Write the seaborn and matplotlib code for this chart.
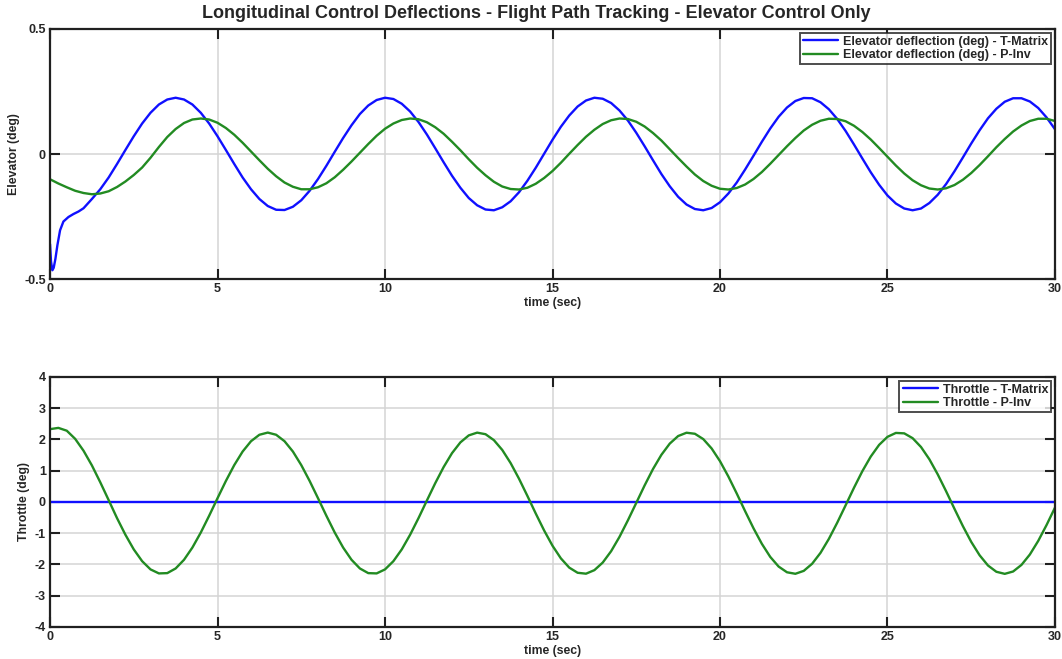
import numpy as np
import matplotlib
matplotlib.use("Agg")
import matplotlib.pyplot as plt
import seaborn as sns

# ---- sample times (s) ----
time_s = np.arange(0, 30.001, 0.25)

# ---- elevator deflection, T-Matrix (deg): fast start-up transient, then grid samples from 1.25 s ----
elev_tm_head_t = [0.0, 0.03, 0.07, 0.11, 0.16, 0.22, 0.30, 0.40, 0.55, 0.70, 0.85, 1.00]
elev_tm_head = [-0.360, -0.430, -0.465, -0.455, -0.420, -0.365, -0.305, -0.270, -0.252, -0.240, -0.230, -0.217]
elev_tm_tail = [
    -0.180, -0.141, -0.094, -0.040, 0.016, 0.071, 0.122, 0.165, 0.198, 0.218,
    0.225, 0.218, 0.198, 0.165, 0.122, 0.071, 0.016, -0.040, -0.094, -0.141,
    -0.180, -0.208, -0.223, -0.224, -0.211, -0.185, -0.147, -0.100, -0.047, 0.009,
    0.064, 0.115, 0.160, 0.194, 0.216, 0.225, 0.220, 0.201, 0.170, 0.128,
    0.078, 0.023, -0.033, -0.087, -0.135, -0.176, -0.205, -0.222, -0.225, -0.213,
    -0.189, -0.153, -0.107, -0.055, 0.001, 0.057, 0.109, 0.154, 0.190, 0.214,
    0.225, 0.221, 0.204, 0.174, 0.134, 0.085, 0.031, -0.025, -0.080, -0.129,
    -0.171, -0.202, -0.220, -0.225, -0.216, -0.193, -0.158, -0.114, -0.062, -0.007,
    0.049, 0.102, 0.149, 0.186, 0.212, 0.224, 0.223, 0.207, 0.179, 0.140,
    0.092, 0.038, -0.018, -0.073, -0.123, -0.166, -0.198, -0.218, -0.225, -0.218,
    -0.196, -0.163, -0.120, -0.069, -0.014, 0.042, 0.095, 0.143, 0.181, 0.209,
    0.223, 0.223, 0.210, 0.184, 0.146, 0.099,
]

# ---- elevator deflection, P-Inv (deg) on time_s ----
elev_pinv = [
    -0.101, -0.118, -0.133, -0.147, -0.156, -0.161, -0.158, -0.149, -0.132, -0.110,
    -0.084, -0.054, -0.015, 0.028, 0.068, 0.100, 0.124, 0.138,
    0.142, 0.138, 0.125, 0.104, 0.077, 0.045, 0.010, -0.025, -0.059, -0.089,
    -0.114, -0.131, -0.141, -0.141, -0.133, -0.117, -0.093, -0.063, -0.030, 0.005,
    0.040, 0.073, 0.101, 0.122, 0.136, 0.142, 0.139, 0.127, 0.107, 0.081,
    0.049, 0.015, -0.021, -0.055, -0.085, -0.111, -0.130, -0.140, -0.142, -0.135,
    -0.119, -0.096, -0.068, -0.035, 0.001, 0.036, 0.069, 0.097, 0.120, 0.135,
    0.142, 0.140, 0.129, 0.110, 0.084, 0.054, 0.019, -0.016, -0.050, -0.082,
    -0.108, -0.127, -0.139, -0.142, -0.136, -0.122, -0.100, -0.072, -0.039, -0.004,
    0.031, 0.064, 0.094, 0.117, 0.133, 0.141, 0.140, 0.131, 0.113, 0.088,
    0.058, 0.024, -0.011, -0.046, -0.078, -0.105, -0.125, -0.138, -0.142, -0.137,
    -0.124, -0.103, -0.076, -0.044, -0.009, 0.027, 0.060, 0.090, 0.114, 0.132,
    0.141, 0.141, 0.132,
]

# ---- throttle (deg) on time_s ----
throttle_tm = [0.0] * 121
throttle_pinv = [
    2.330, 2.370, 2.280, 2.020, 1.640, 1.170, 0.630, 0.060,
    -0.517, -1.048, -1.518, -1.895, -2.158, -2.286, -2.277, -2.128, -1.850, -1.459,
    -0.980, -0.442, 0.120, 0.672, 1.180, 1.614, 1.944, 2.150, 2.220, 2.150,
    1.944, 1.614, 1.180, 0.672, 0.120, -0.442, -0.980, -1.459, -1.850, -2.128,
    -2.277, -2.286, -2.158, -1.895, -1.518, -1.048, -0.517, 0.046, 0.602, 1.117,
    1.562, 1.906, 2.130, 2.218, 2.168, 1.978, 1.664, 1.244, 0.744, 0.195,
    -0.370, -0.912, -1.401, -1.805, -2.101, -2.266, -2.295, -2.182, -1.938, -1.575,
    -1.116, -0.589, -0.031, 0.530, 1.054, 1.508, 1.867, 2.109, 2.215, 2.182,
    2.012, 1.712, 1.305, 0.814, 0.270, -0.295, -0.842, -1.340, -1.758, -2.067,
    -2.250, -2.298, -2.205, -1.977, -1.629, -1.181, -0.662, -0.106, 0.455, 0.986,
    1.452, 1.827, 2.084, 2.209, 2.195, 2.041, 1.759, 1.366, 0.882, 0.342,
    -0.221, -0.772, -1.278, -1.706, -2.033, -2.234, -2.300, -2.225, -2.013, -1.681,
    -1.245, -0.734, -0.180,
]

# ---- labels and ticks ----
title = "Longitudinal Control Deflections - Flight Path Tracking - Elevator Control Only"
x_ticks = [0, 5, 10, 15, 20, 25, 30]
elev_yticks = [-0.5, 0, 0.5]
elev_yticklabels = ["-0.5", "0", "0.5"]
thr_yticks = [-4, -3, -2, -1, 0, 1, 2, 3, 4]
thr_yticklabels = ["-4", "-3", "-2", "-1", "0", "1", "2", "3", "4"]

BLUE = "#1010ff"
GREEN = "#228b22"

sns.set_theme(style="white")
plt.rcParams["font.family"] = ["Liberation Sans", "DejaVu Sans"]
plt.rcParams["font.weight"] = "bold"
plt.rcParams["axes.unicode_minus"] = False

fig = plt.figure(figsize=(10.62, 6.59), dpi=100)
ax1 = fig.add_axes([0.0471, 0.5766, 0.9463, 0.3794])
ax2 = fig.add_axes([0.0471, 0.0486, 0.9463, 0.3794])

elev_tm_t = list(elev_tm_head_t) + list(time_s[5:])
elev_tm = elev_tm_head + elev_tm_tail

sns.lineplot(x=elev_tm_t, y=elev_tm, ax=ax1, color=BLUE, lw=1.7, sort=False,
             estimator=None, label="Elevator deflection (deg) - T-Matrix")
sns.lineplot(x=time_s, y=elev_pinv, ax=ax1, color=GREEN, lw=1.7, sort=False,
             estimator=None, label="Elevator deflection (deg) - P-Inv")

sns.lineplot(x=time_s, y=throttle_tm, ax=ax2, color=BLUE, lw=1.7, sort=False,
             estimator=None, label="Throttle - T-Matrix")
sns.lineplot(x=time_s, y=throttle_pinv, ax=ax2, color=GREEN, lw=1.7, sort=False,
             estimator=None, label="Throttle - P-Inv")


def style_axes(ax, yticks, yticklabels, ylim, ylabel):
    ax.set_xlim(0, 30)
    ax.set_ylim(*ylim)
    ax.set_xticks(x_ticks)
    ax.set_xticklabels([str(v) for v in x_ticks])
    ax.set_yticks(yticks)
    ax.set_yticklabels(yticklabels)
    ax.grid(True, color="#d4d4d4", lw=1.1)
    ax.set_axisbelow(True)
    for sp in ax.spines.values():
        sp.set_visible(True)
        sp.set_color("#202020")
        sp.set_linewidth(1.6)
    ax.tick_params(axis="both", which="major", direction="in", length=7, width=1.5,
                   color="#202020", top=True, right=True, bottom=True, left=True,
                   labelsize=9, pad=3)
    for lbl in ax.get_xticklabels() + ax.get_yticklabels():
        lbl.set_fontweight("bold")
    ax.set_xlabel("time (sec)", fontsize=8.8, fontweight="bold", labelpad=1.5)
    ax.set_ylabel(ylabel, fontsize=8.8, fontweight="bold", labelpad=3)
    leg = ax.legend(loc="upper right", fontsize=9, frameon=True, fancybox=False,
                    borderpad=0.25, labelspacing=0.1, handlelength=2.8,
                    handletextpad=0.4, borderaxespad=0.3)
    leg.get_frame().set_edgecolor("#202020")
    leg.get_frame().set_linewidth(1.4)
    for t in leg.get_texts():
        t.set_fontweight("bold")


style_axes(ax1, elev_yticks, elev_yticklabels, (-0.5, 0.5), "Elevator (deg)")
style_axes(ax2, thr_yticks, thr_yticklabels, (-4, 4), "Throttle (deg)")

ax1.set_title(title, fontsize=13, fontweight="bold", pad=8, x=0.484)

fig.savefig("out.png", dpi=100, facecolor="white")
